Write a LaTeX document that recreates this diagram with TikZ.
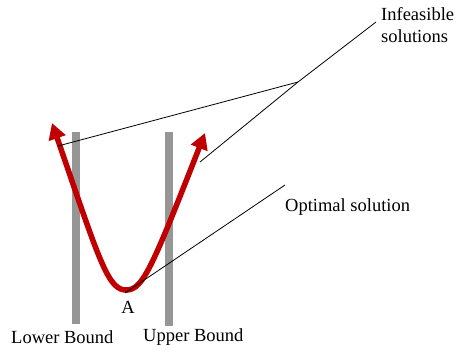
\documentclass[tikz,border=0pt]{standalone}
\usepackage{fontspec}
\setmainfont{Liberation Serif}
\usetikzlibrary{arrows.meta}
\definecolor{curvered}{RGB}{192,0,0}
\definecolor{bargray}{RGB}{150,150,150}
\tikzset{
  bound/.style={bargray, line width=8pt},
  label/.style={inner sep=0pt, font=\fontsize{18.5}{22}\selectfont},
  leader/.style={black, line width=0.8pt}
}
\begin{document}
\begin{tikzpicture}[x=1pt, y=-1pt]
  \useasboundingbox (0,0) rectangle (463,349);
  % bounds
  \draw[bound] (76,132) -- (76,324);
  \draw[bound] (169,132) -- (169,326);
  % curve
  \coordinate (lefttip) at (52,123);
  \coordinate (vertex) at (127,290);
  \coordinate (righttip) at (205,133);
  \draw[curvered, line width=5.5pt, {Triangle[width=17pt,length=16pt]}-{Triangle[width=17pt,length=16pt]}]
    (lefttip) .. controls (100,262) and (108,291) .. (vertex)
    .. controls (143,289) and (152,268) .. (righttip);
  % labels
  \node[label, anchor=north west, align=left] (infeasible) at (381,7) {Infeasible\\solutions};
  \node[label, anchor=base west] (optimal) at (285,211) {Optimal solution};
  \node[label, anchor=base] (pointa) at (128,313) {A};
  \node[label, anchor=base west] (lower) at (11,343) {Lower Bound};
  \node[label, anchor=base west] (upper) at (143,341) {Upper Bound};
  % leader lines
  \coordinate (infstart) at (376,22);
  \coordinate (junction) at (298,82);
  \coordinate (leftend) at (58,146);
  \coordinate (rightend) at (200,162);
  \coordinate (optstart) at (285,185);
  \coordinate (optend) at (125,293);
  \draw[leader] (infstart) -- (junction) -- (rightend);
  \draw[leader] (junction) -- (leftend);
  \draw[leader] (optstart) -- (optend);
\end{tikzpicture}
\end{document}
